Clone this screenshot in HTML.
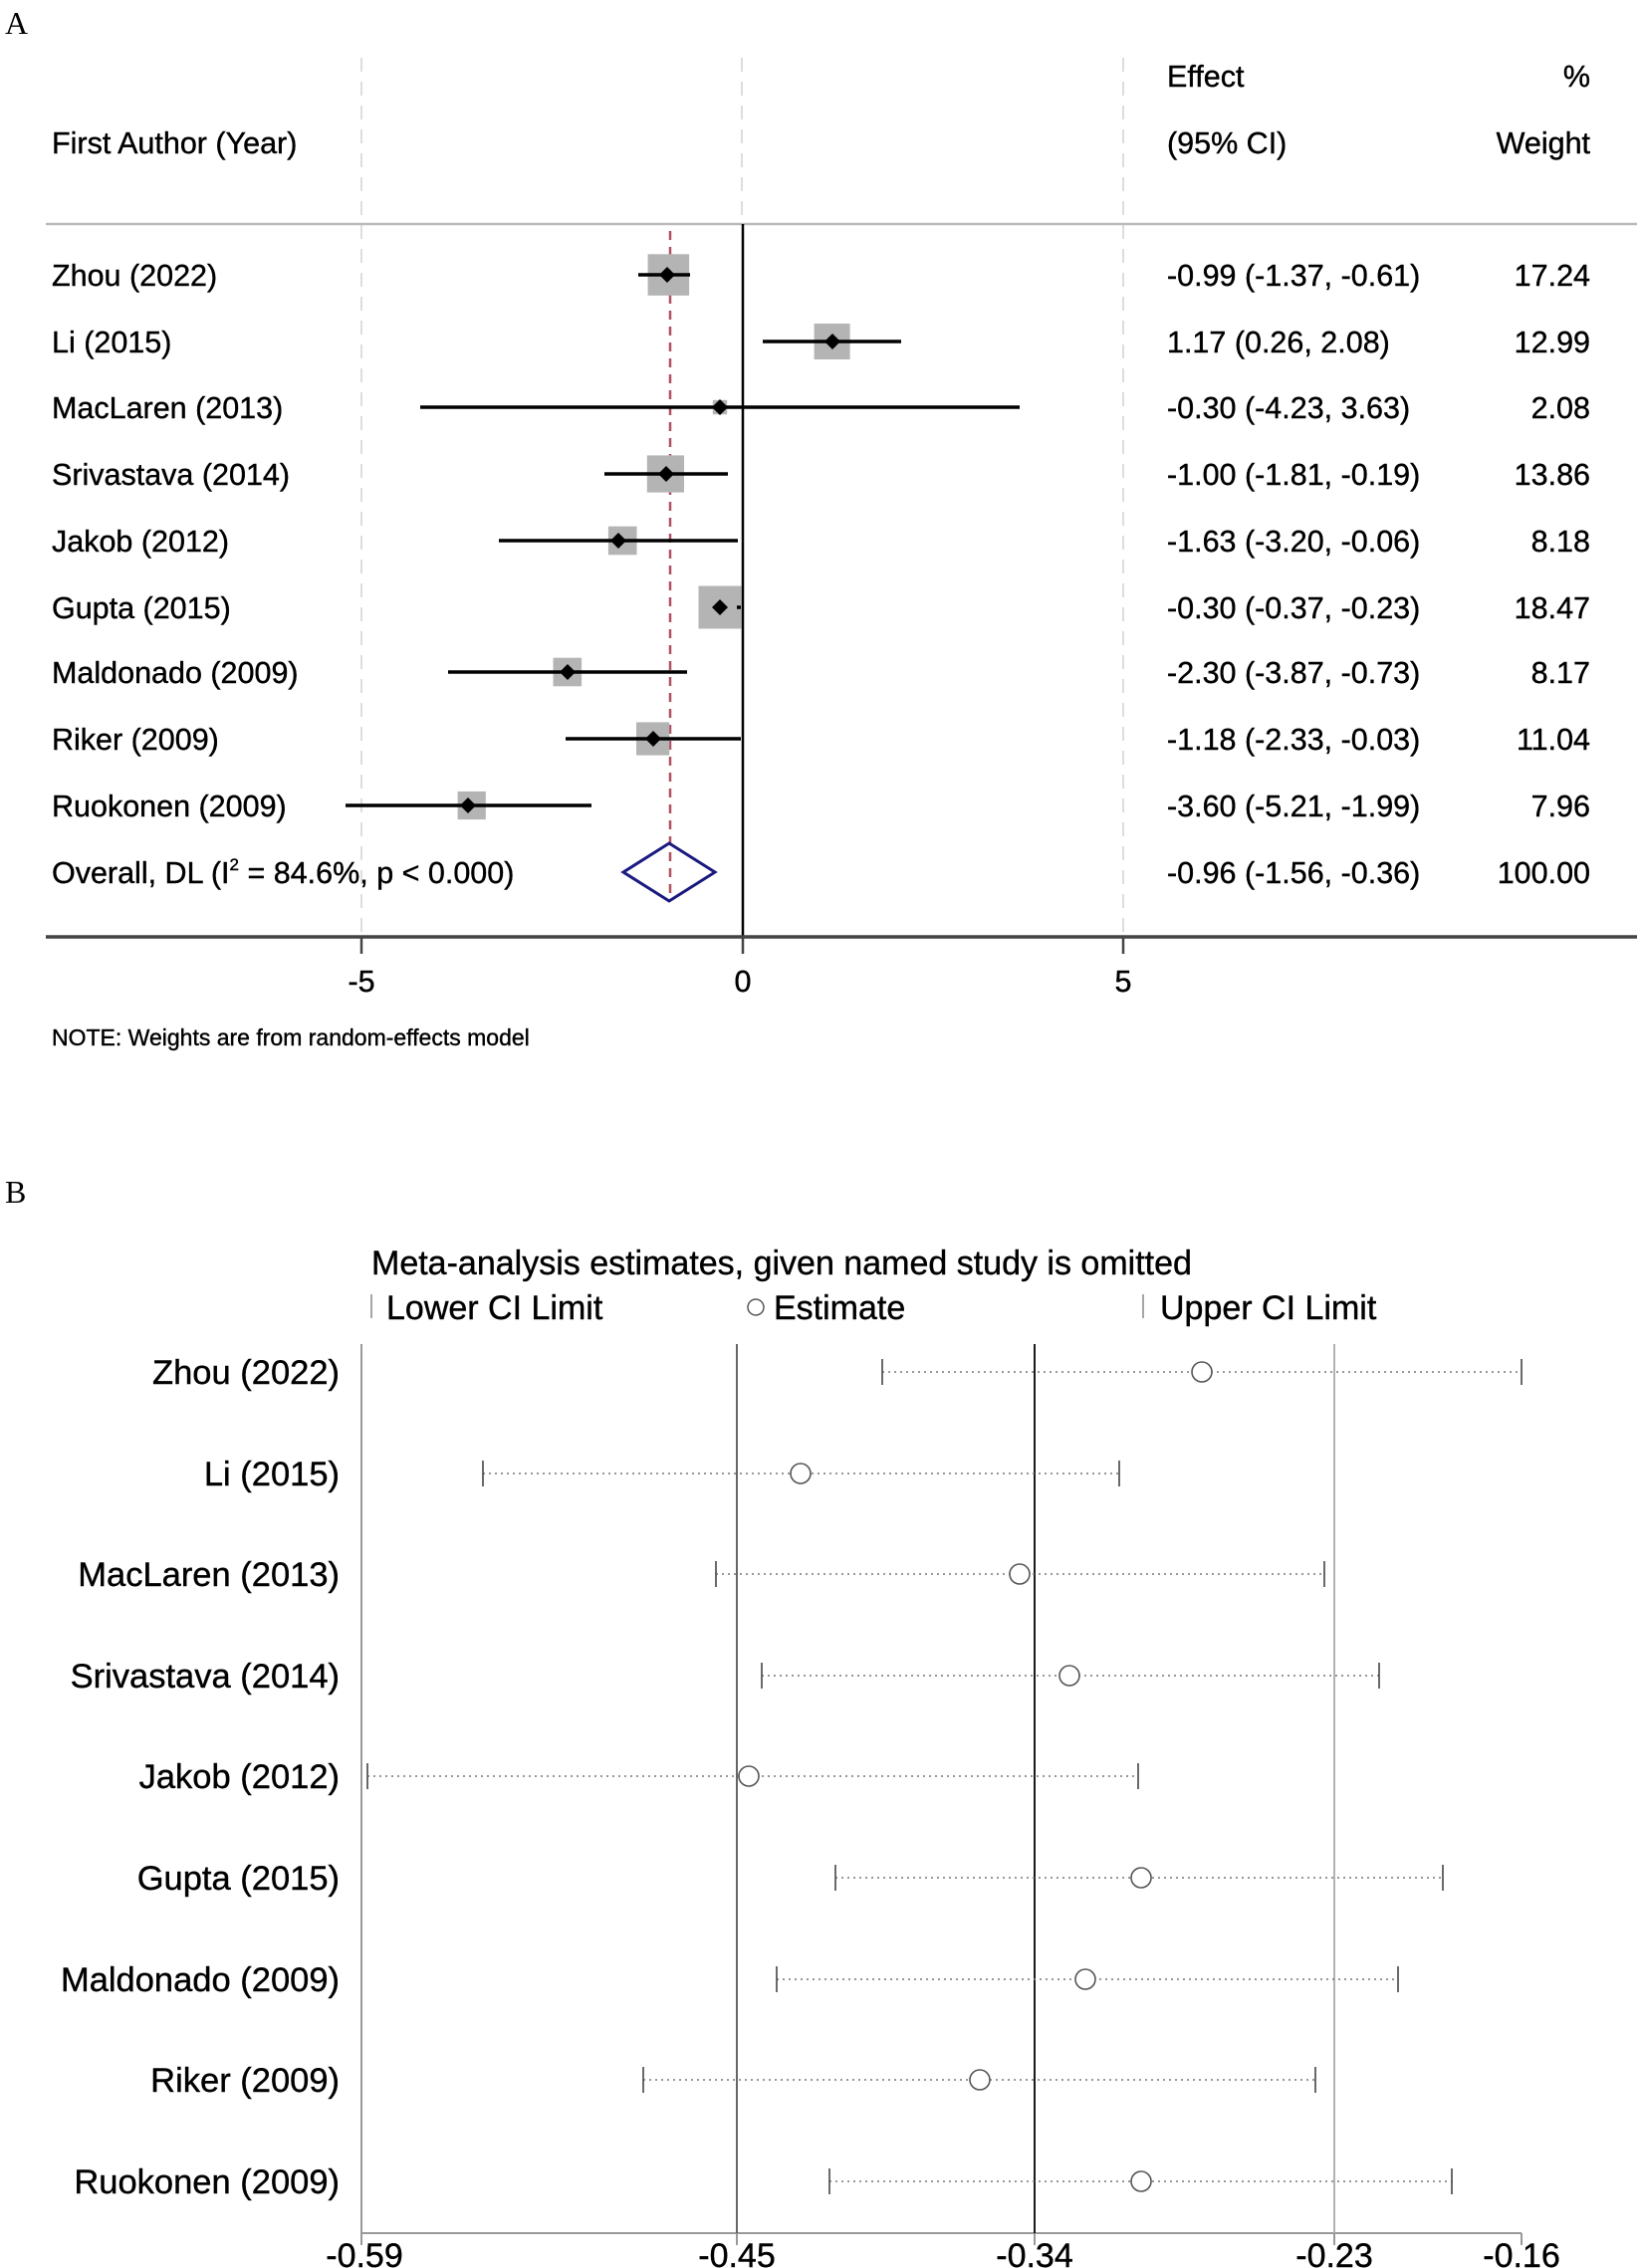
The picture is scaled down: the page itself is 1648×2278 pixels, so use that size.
<!DOCTYPE html>
<html><head><meta charset="utf-8"><style>
html,body{margin:0;padding:0;background:#fff;}
svg{display:block;}
text{font-family:"Liberation Sans",Arial,sans-serif;fill:#000;stroke:#000;stroke-width:0.4;}
</style></head><body>
<svg width="1648" height="2278" viewBox="0 0 1648 2278" xmlns="http://www.w3.org/2000/svg">
<rect width="1648" height="2278" fill="#fff"/>
<!-- Panel A -->
<text x="5" y="34" style="font-family:'Liberation Serif',serif;stroke-width:0" font-size="32">A</text>
<g stroke="#ddd" stroke-width="2" stroke-dasharray="14,10">
<line x1="363" y1="58" x2="363" y2="941"/>
<line x1="745" y1="58" x2="745" y2="225"/>
<line x1="1128" y1="58" x2="1128" y2="941"/>
</g>
<g font-size="30.5">
<text x="1172" y="87">Effect</text>
<text x="1597" y="87" text-anchor="end">%</text>
<text x="52" y="154">First Author (Year)</text>
<text x="1172" y="154">(95% CI)</text>
<text x="1597" y="154" text-anchor="end">Weight</text>
</g>
<line x1="46" y1="225" x2="1644" y2="225" stroke="#bbb" stroke-width="2.5"/>
<line x1="746" y1="225" x2="746" y2="941" stroke="#000" stroke-width="2.5"/>
<line x1="673" y1="232" x2="673" y2="905" stroke="#b05060" stroke-width="2.5" stroke-dasharray="9,7"/>
<g font-size="30.5">
<text x="52" y="287">Zhou (2022)</text>
<text x="52" y="354">Li (2015)</text>
<text x="52" y="420">MacLaren (2013)</text>
<text x="52" y="487">Srivastava (2014)</text>
<text x="52" y="554">Jakob (2012)</text>
<text x="52" y="621">Gupta (2015)</text>
<text x="52" y="686">Maldonado (2009)</text>
<text x="52" y="753">Riker (2009)</text>
<text x="52" y="820">Ruokonen (2009)</text>
<text x="52" y="887">Overall, DL (I<tspan dy="-13" font-size="17">2</tspan><tspan dy="13"> = 84.6%, p &lt; 0.000)</tspan></text>
<text x="1172" y="287">-0.99 (-1.37, -0.61)</text>
<text x="1172" y="354">1.17 (0.26, 2.08)</text>
<text x="1172" y="420">-0.30 (-4.23, 3.63)</text>
<text x="1172" y="487">-1.00 (-1.81, -0.19)</text>
<text x="1172" y="554">-1.63 (-3.20, -0.06)</text>
<text x="1172" y="621">-0.30 (-0.37, -0.23)</text>
<text x="1172" y="686">-2.30 (-3.87, -0.73)</text>
<text x="1172" y="753">-1.18 (-2.33, -0.03)</text>
<text x="1172" y="820">-3.60 (-5.21, -1.99)</text>
<text x="1172" y="887">-0.96 (-1.56, -0.36)</text>
<g text-anchor="end">
<text x="1597" y="287">17.24</text>
<text x="1597" y="354">12.99</text>
<text x="1597" y="420">2.08</text>
<text x="1597" y="487">13.86</text>
<text x="1597" y="554">8.18</text>
<text x="1597" y="621">18.47</text>
<text x="1597" y="686">8.17</text>
<text x="1597" y="753">11.04</text>
<text x="1597" y="820">7.96</text>
<text x="1597" y="887">100.00</text>
</g>
</g>
<g fill="#b4b4b4">
<rect x="650.6" y="255.3" width="41.5" height="41.5"/>
<rect x="817.6" y="325" width="36" height="36"/>
<rect x="715.8" y="401.8" width="14.4" height="14.4"/>
<rect x="649.8" y="457.4" width="37.2" height="37.2"/>
<rect x="610.9" y="528.7" width="28.6" height="28.6"/>
<rect x="701.5" y="588.5" width="43" height="43"/>
<rect x="555.5" y="660.7" width="28.6" height="28.6"/>
<rect x="639.0" y="725.4" width="33.2" height="33.2"/>
<rect x="459.6" y="794.9" width="28.2" height="28.2"/>
</g>
<g stroke="#000" stroke-width="3.5">
<line x1="641" y1="276" x2="693" y2="276"/>
<line x1="766" y1="343" x2="905" y2="343"/>
<line x1="422" y1="409" x2="1024" y2="409"/>
<line x1="607" y1="476" x2="731" y2="476"/>
<line x1="501" y1="543" x2="741" y2="543"/>
<line x1="740" y1="610" x2="744" y2="610"/>
<line x1="450" y1="675" x2="690" y2="675"/>
<line x1="568" y1="742" x2="744" y2="742"/>
<line x1="347" y1="809" x2="594" y2="809"/>
</g>
<g fill="#000">
<path d="M670,268 l8,8 l-8,8 l-8,-8z"/>
<path d="M836,335 l8,8 l-8,8 l-8,-8z"/>
<path d="M723,401 l8,8 l-8,8 l-8,-8z"/>
<path d="M669,468 l8,8 l-8,8 l-8,-8z"/>
<path d="M621,535 l8,8 l-8,8 l-8,-8z"/>
<path d="M723,602 l8,8 l-8,8 l-8,-8z"/>
<path d="M570,667 l8,8 l-8,8 l-8,-8z"/>
<path d="M656,734 l8,8 l-8,8 l-8,-8z"/>
<path d="M470,801 l8,8 l-8,8 l-8,-8z"/>
</g>
<path d="M626,876 L672,847 L718,876 L672,905 Z" fill="none" stroke="#1a1a80" stroke-width="3"/>
<line x1="46" y1="941" x2="1644" y2="941" stroke="#444" stroke-width="3.5"/>
<g stroke="#444" stroke-width="2.5">
<line x1="363" y1="941" x2="363" y2="958"/>
<line x1="746" y1="941" x2="746" y2="958"/>
<line x1="1128" y1="941" x2="1128" y2="958"/>
</g>
<g font-size="30.5" text-anchor="middle">
<text x="363" y="996">-5</text>
<text x="746" y="996">0</text>
<text x="1128" y="996">5</text>
</g>
<text x="52" y="1050" font-size="23">NOTE: Weights are from random-effects model</text>

<!-- Panel B -->
<text x="5" y="1208" style="font-family:'Liberation Serif',serif;stroke-width:0" font-size="32">B</text>
<text x="373" y="1280" font-size="34">Meta-analysis estimates, given named study is omitted</text>
<g stroke="#888" stroke-width="1.5">
<line x1="373" y1="1300" x2="373" y2="1324"/>
<line x1="1148" y1="1300" x2="1148" y2="1324"/>
</g>
<circle cx="759" cy="1313" r="8" fill="none" stroke="#555" stroke-width="1.5"/>
<g font-size="34">
<text x="388" y="1325">Lower CI Limit</text>
<text x="777" y="1325">Estimate</text>
<text x="1165" y="1325">Upper CI Limit</text>
</g>
<line x1="363" y1="1350" x2="363" y2="2243" stroke="#999" stroke-width="2"/>
<line x1="363" y1="2243" x2="1528" y2="2243" stroke="#999" stroke-width="2"/>
<line x1="740" y1="1350" x2="740" y2="2243" stroke="#555" stroke-width="1.8"/>
<line x1="1039" y1="1350" x2="1039" y2="2243" stroke="#000" stroke-width="1.8"/>
<line x1="1340" y1="1350" x2="1340" y2="2243" stroke="#aaa" stroke-width="1.8"/>
<g stroke="#999" stroke-width="2">
<line x1="363" y1="2243" x2="363" y2="2255"/>
<line x1="740" y1="2243" x2="740" y2="2255"/>
<line x1="1039" y1="2243" x2="1039" y2="2255"/>
<line x1="1340" y1="2243" x2="1340" y2="2255"/>
<line x1="1528" y1="2243" x2="1528" y2="2255"/>
</g>
<g font-size="34" text-anchor="middle">
<text x="366" y="2277">-0.59</text>
<text x="740" y="2277">-0.45</text>
<text x="1039" y="2277">-0.34</text>
<text x="1340" y="2277">-0.23</text>
<text x="1528" y="2277">-0.16</text>
</g>
<g font-size="34.5" text-anchor="end">
<text x="341" y="1390">Zhou (2022)</text>
<text x="341" y="1492">Li (2015)</text>
<text x="341" y="1593">MacLaren (2013)</text>
<text x="341" y="1695">Srivastava (2014)</text>
<text x="341" y="1796">Jakob (2012)</text>
<text x="341" y="1898">Gupta (2015)</text>
<text x="341" y="2000">Maldonado (2009)</text>
<text x="341" y="2101">Riker (2009)</text>
<text x="341" y="2203">Ruokonen (2009)</text>
</g>
<g stroke="#777" stroke-width="1.6" stroke-dasharray="2,4">
<line x1="886" y1="1378" x2="1528" y2="1378"/>
<line x1="485" y1="1480" x2="1124" y2="1480"/>
<line x1="719" y1="1581" x2="1330" y2="1581"/>
<line x1="765" y1="1683" x2="1385" y2="1683"/>
<line x1="369" y1="1784" x2="1143" y2="1784"/>
<line x1="839" y1="1886" x2="1449" y2="1886"/>
<line x1="780" y1="1988" x2="1404" y2="1988"/>
<line x1="646" y1="2089" x2="1321" y2="2089"/>
<line x1="833" y1="2191" x2="1458" y2="2191"/>
</g>
<g stroke="#444" stroke-width="1.6">
<line x1="886" y1="1365" x2="886" y2="1391"/><line x1="1528" y1="1365" x2="1528" y2="1391"/>
<line x1="485" y1="1467" x2="485" y2="1493"/><line x1="1124" y1="1467" x2="1124" y2="1493"/>
<line x1="719" y1="1568" x2="719" y2="1594"/><line x1="1330" y1="1568" x2="1330" y2="1594"/>
<line x1="765" y1="1670" x2="765" y2="1696"/><line x1="1385" y1="1670" x2="1385" y2="1696"/>
<line x1="369" y1="1771" x2="369" y2="1797"/><line x1="1143" y1="1771" x2="1143" y2="1797"/>
<line x1="839" y1="1873" x2="839" y2="1899"/><line x1="1449" y1="1873" x2="1449" y2="1899"/>
<line x1="780" y1="1975" x2="780" y2="2001"/><line x1="1404" y1="1975" x2="1404" y2="2001"/>
<line x1="646" y1="2076" x2="646" y2="2102"/><line x1="1321" y1="2076" x2="1321" y2="2102"/>
<line x1="833" y1="2178" x2="833" y2="2204"/><line x1="1458" y1="2178" x2="1458" y2="2204"/>
</g>
<g fill="#fff" stroke="#555" stroke-width="1.6">
<circle cx="1207" cy="1378" r="10"/>
<circle cx="804" cy="1480" r="10"/>
<circle cx="1024" cy="1581" r="10"/>
<circle cx="1074" cy="1683" r="10"/>
<circle cx="752" cy="1784" r="10"/>
<circle cx="1146" cy="1886" r="10"/>
<circle cx="1090" cy="1988" r="10"/>
<circle cx="984" cy="2089" r="10"/>
<circle cx="1146" cy="2191" r="10"/>
</g>
</svg>
</body></html>
